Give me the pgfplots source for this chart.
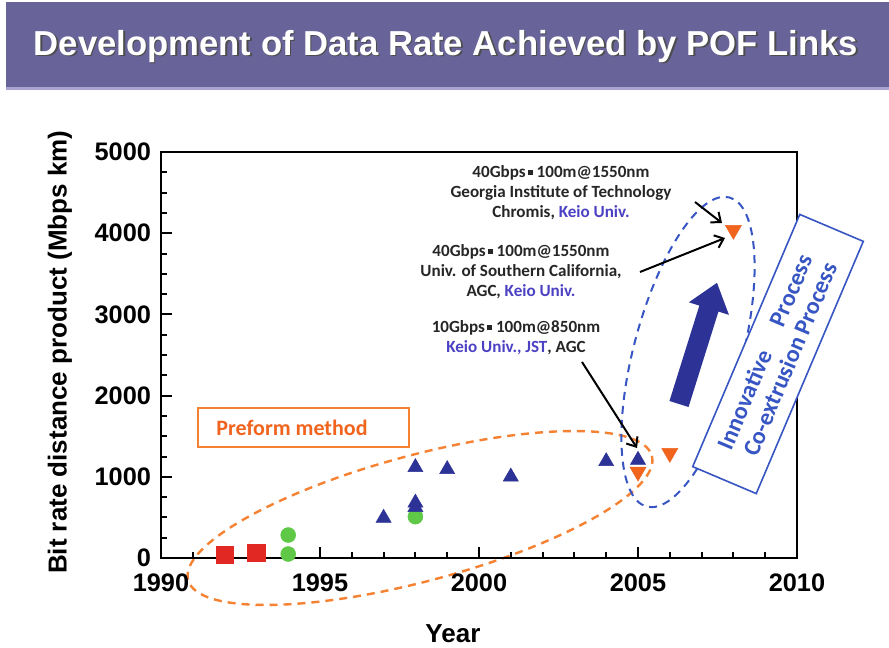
\documentclass[border=0pt]{standalone}
\usepackage{pgfplots}
\pgfplotsset{compat=1.18}
\usepackage{fontspec}
\setmainfont{Liberation Sans}
\newfontfamily\carlito{Carlito}
\usetikzlibrary{arrows.meta}
\definecolor{banner}{RGB}{104,99,153}
\definecolor{bannerlight}{RGB}{170,165,210}
\definecolor{myred}{RGB}{225,40,35}
\definecolor{mygreen}{RGB}{95,200,70}
\definecolor{myblue}{RGB}{45,50,150}
\definecolor{myorange}{RGB}{240,100,30}
\definecolor{dashorange}{RGB}{245,130,50}
\definecolor{dashblue}{RGB}{55,85,195}
\definecolor{keio}{RGB}{75,65,195}
\newcommand{\sep}{\hspace{0.12em}\rule[0.3ex]{0.3em}{0.3em}}
\begin{document}
\begin{tikzpicture}
\fill[white] (0,0) rectangle (666.75pt,485.25pt);
\path[use as bounding box] (0,0) rectangle (666.75pt,485.25pt);
% background annotations (pixel coordinates, y down)
\begin{scope}[shift={(0pt,485.25pt)}, x=0.75pt, y=-0.75pt]
  \fill[banner] (6,2) rectangle (889,88);
  \fill[bannerlight] (6,87) rectangle (889,90);
  \node[text=black!70, font=\bfseries\fontsize{26}{30}\selectfont] at (447.5,48) {Development of Data Rate Achieved by POF Links};
  \node[text=white, font=\bfseries\fontsize{26}{30}\selectfont] at (446,46.5) {Development of Data Rate Achieved by POF Links};
  \begin{scope}[shift={(420,518)}, rotate=15]
    \draw[dashorange, line width=1.8pt, dash pattern=on 6pt off 4.5pt] (0,0) ellipse (240 and 63);
  \end{scope}
  \begin{scope}[shift={(688,352)}, rotate=-15]
    \draw[dashblue, line width=1.5pt, dash pattern=on 6pt off 4.5pt] (0,0) ellipse (54 and 160);
  \end{scope}
\end{scope}
\begin{axis}[
  at={(120.75pt,66.75pt)}, anchor=south west,
  scale only axis, width=477pt, height=304.5pt,
  xmin=1990, xmax=2010, ymin=0, ymax=5000,
  xtick={1990,1995,2000,2005,2010}, minor x tick num=4,
  ytick={0,1000,2000,3000,4000,5000}, minor y tick num=3,
  scaled ticks=false,
  tick align=inside,
  xtick pos=bottom, ytick pos=left,
  major tick length=8pt, minor tick length=4.5pt,
  every tick/.style={black, line width=1.5pt},
  axis line style={line width=1.8pt},
  ticklabel style={font=\bfseries\fontsize{19}{22}\selectfont},
  /pgf/number format/assume math mode=true,
  /pgf/number format/set thousands separator={},
  xticklabel style={yshift=-8pt},
  yticklabel style={xshift=-4pt},
  xlabel={Year}, ylabel={Bit rate distance product (Mbps km)},
  label style={font=\bfseries\fontsize{19.5}{22}\selectfont},
  xlabel style={at={(axis description cs:0.459,-0.187)}, anchor=center},
  ylabel style={at={(axis description cs:-0.159,0.507)}, anchor=center},
  clip=false,
]
\addplot[only marks, mark=square*, mark size=6.5pt, color=myred] coordinates {(1992,37) (1993,62)};
\addplot[only marks, mark=*, mark size=5.6pt, color=mygreen] coordinates {(1994,283) (1994,49) (1998,509)};
\addplot[only marks, mark=triangle*, mark size=6.5pt, color=myblue] coordinates {(1997,493) (1998,1117) (1998,680) (1998,625) (1999,1092) (2001,1001) (2004,1190) (2005,1207)};
\addplot[only marks, mark=triangle*, mark size=7pt, mark options={rotate=180}, color=myorange] coordinates {(2005,1063) (2006,1293) (2008,4040)};
\end{axis}
% foreground annotations
\begin{scope}[shift={(0pt,485.25pt)}, x=0.75pt, y=-0.75pt]
  \draw[dashorange, line width=1.2pt] (198,408) rectangle (409,447);
  \node[text=myorange, font=\carlito\bfseries\fontsize{16.5}{19}\selectfont] at (292,428) {Preform method};
  % thick blue arrow
  \begin{scope}[shift={(679,404)}, rotate=72.6]
    \fill[myblue] (0,-10) -- (100,-10) -- (100,-21) -- (127,0) -- (100,21) -- (100,10) -- (0,10) -- cycle;
  \end{scope}
  % rotated box
  \begin{scope}[shift={(778,354)}, rotate=67]
    \draw[dashblue, line width=1.2pt, fill=white] (-137,-34.5) rectangle (137,34.5);
    \node[rotate=67, text=dashblue, font=\carlito\bfseries\fontsize{18}{20}\selectfont] at (-3,-13) {Innovative\hspace{1.2em}Process};
    \node[rotate=67, text=dashblue, font=\carlito\bfseries\fontsize{18}{20}\selectfont] at (0,13) {Co-extrusion Process};
  \end{scope}
  % text blocks
  \node[align=center, font=\carlito\bfseries\fontsize{12.8}{15}\selectfont, text=black!85] at (561,193)
    {40Gbps\sep\ 100m@1550nm\\Georgia Institute of Technology\\Chromis, \textcolor{keio}{Keio Univ.}};
  \node[align=center, font=\carlito\bfseries\fontsize{12.8}{15}\selectfont, text=black!85] at (521,272)
    {40Gbps\sep\ 100m@1550nm\\Univ. of Southern California,\\AGC, \textcolor{keio}{Keio Univ.}};
  \node[align=center, font=\carlito\bfseries\fontsize{12.8}{15}\selectfont, text=black!85] at (516,338)
    {10Gbps\sep\ 100m@850nm\\\textcolor{keio}{Keio Univ., JST}, AGC};
  \draw[line width=1.5pt, -{Straight Barb[length=6pt, width=10pt]}] (695,202) -- (722,223);
  \draw[line width=1.5pt, -{Straight Barb[length=6pt, width=10pt]}] (640,272) -- (725,238);
  \draw[line width=1.5pt, -{Straight Barb[length=6pt, width=10pt]}] (582,362) -- (637,448);
\end{scope}
\end{tikzpicture}
\end{document}
